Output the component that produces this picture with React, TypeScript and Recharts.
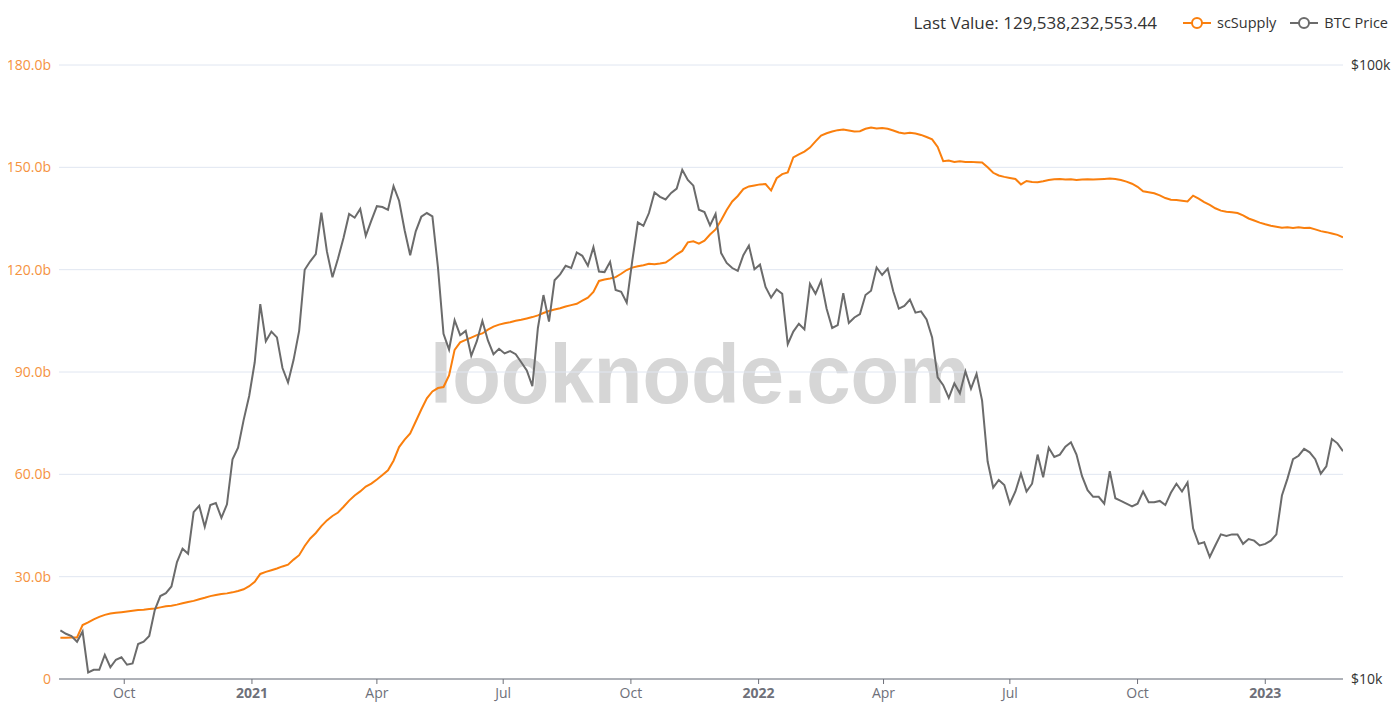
import React from "react"
import { LineChart, Line, XAxis, YAxis, CartesianGrid } from "recharts"

// sample every 4 days starting 2020-08-16 (UTC)
const START = Date.UTC(2020, 7, 16)
const STEP = 4 * 86400000

// stablecoin supply, billions
const scSupply = [
  12.1, 12.1, 12.2, 12.2,
  15.8, 16.6, 17.5, 18.2, 18.8, 19.2, 19.4, 19.6,
  19.8, 20.0, 20.2, 20.3, 20.5, 20.7, 21.0, 21.3,
  21.5, 21.8, 22.2, 22.6, 22.9, 23.4, 23.8,
  24.3, 24.6, 24.9, 25.1, 25.4, 25.8, 26.3, 27.2,
  28.5, 30.8, 31.4, 31.9, 32.4, 33.0, 33.5, 35.0,
  36.3, 39.0, 41.2, 42.8, 44.8, 46.5, 47.8,
  48.8, 50.5, 52.3, 53.8, 55.0, 56.4, 57.3,
  58.5, 59.8, 61.2, 64.0, 68.0, 70.2, 72.0, 75.5,
  79.0, 82.3, 84.3, 85.3, 85.6, 89.0, 96.5, 98.7,
  99.4, 100.1, 100.8, 101.3, 102.4, 103.3, 103.9,
  104.3, 104.6, 105.0, 105.3, 105.7, 106.1, 106.6, 107.3,
  107.9, 108.3, 108.7, 109.2, 109.6, 110.0, 110.9, 111.8,
  113.5, 116.7, 117.1, 117.4, 117.8, 118.8, 119.9,
  120.6, 121.0, 121.3, 121.7, 121.6, 121.8, 122.1, 123.2,
  124.5, 125.5, 128.0, 128.3, 127.6, 128.5, 130.3,
  131.8, 134.5, 137.5, 140.0, 141.6, 143.6, 144.4, 144.7,
  145.0, 145.1, 143.2, 146.8, 148.0, 148.5, 152.9, 153.8,
  154.6, 155.8, 157.6, 159.3, 160.0, 160.5, 160.9,
  161.1, 160.8, 160.5, 160.6, 161.3, 161.7, 161.4, 161.5,
  161.3, 160.8, 160.2, 159.9, 160.1, 159.9, 159.5,
  158.9, 158.2, 156.0, 151.8, 152.0, 151.6, 151.8, 151.6,
  151.6, 151.5, 151.4, 150.0, 148.4, 147.6, 147.2,
  146.9, 146.6, 145.0, 146.0, 145.7, 145.6, 145.9, 146.3,
  146.5, 146.6, 146.4, 146.5, 146.3, 146.4, 146.5, 146.4,
  146.5, 146.6, 146.7, 146.6, 146.3, 145.8, 145.2,
  144.3, 143.0, 142.7, 142.4, 141.8, 141.0, 140.5, 140.4,
  140.2, 140.0, 141.7, 140.8, 139.8, 139.0, 138.0, 137.3,
  137.0, 136.8, 136.6, 135.9, 135.0, 134.4, 133.8,
  133.3, 132.9, 132.6, 132.3, 132.4, 132.2, 132.4, 132.2,
  132.3, 131.8, 131.3, 131.0, 130.6, 130.2, 129.5,
]

// BTC price, thousands of USD
const btcPrice = [
  12.0, 11.85, 11.75, 11.5,
  11.95, 10.25, 10.35, 10.35, 10.95, 10.45, 10.75, 10.85,
  10.55, 10.6, 11.4, 11.5, 11.75, 12.95, 13.65, 13.8,
  14.15, 15.5, 16.3, 16.0, 18.7, 19.15, 17.7,
  19.2, 19.35, 18.3, 19.25, 22.8, 23.8, 26.4, 28.9,
  32.8, 40.8, 35.5, 36.8, 36.0, 32.1, 30.4, 33.1,
  36.9, 46.4, 47.9, 49.2, 57.5, 49.7, 45.1,
  48.4, 52.3, 57.2, 56.4, 58.3, 52.7, 55.8,
  58.9, 58.7, 58.1, 63.5, 60.1, 53.8, 49.0, 53.6,
  56.6, 57.4, 56.7, 46.8, 36.5, 34.4, 38.4, 36.3,
  36.9, 33.6, 35.5, 38.3, 35.6, 33.8, 34.5,
  33.9, 34.2, 33.8, 32.8, 31.8, 30.0, 37.3, 42.2,
  38.2, 44.6, 45.6, 47.1, 46.7, 49.5, 48.9, 47.1,
  50.5, 46.1, 46.0, 47.8, 43.0, 42.7, 41.0,
  48.0, 55.4, 54.7, 57.4, 62.0, 61.0, 60.4, 61.9,
  62.9, 67.5, 65.0, 63.6, 58.1, 57.6, 54.8,
  57.2, 49.4, 47.6, 46.7, 46.2, 49.0, 50.8, 46.5,
  47.3, 43.5, 41.8, 43.1, 42.4, 35.1, 36.8, 37.9,
  37.1, 44.0, 42.4, 44.5, 40.1, 37.3, 37.7,
  42.5, 38.0, 38.8, 39.3, 42.2, 42.9, 46.8, 45.5,
  46.6, 42.8, 40.1, 40.5, 41.5, 39.5, 39.7,
  38.5, 36.0, 31.0, 30.1, 28.7, 30.3, 29.2, 31.7,
  29.7, 31.4, 28.4, 22.6, 20.5, 21.1, 20.7,
  19.3, 20.2, 21.6, 20.2, 20.8, 23.2, 21.3, 23.8,
  23.0, 23.2, 23.9, 24.3, 23.2, 21.4, 20.3, 19.8,
  19.8, 19.3, 21.8, 19.7, 19.5, 19.3, 19.1,
  19.3, 20.2, 19.4, 19.4, 19.5, 19.2, 20.1, 20.8,
  20.2, 20.9, 17.6, 16.6, 16.7, 15.8, 16.5, 17.2,
  17.1, 17.2, 17.2, 16.6, 16.9, 16.8, 16.5,
  16.6, 16.8, 17.2, 19.9, 21.2, 22.8, 23.1, 23.7,
  23.4, 22.8, 21.6, 22.2, 24.6, 24.2, 23.5,
]

const supplyTicks = [0, 30, 60, 90, 120, 150, 180]
const priceTicks = [10, 100]
const dateTicks = [
  Date.UTC(2020, 9, 1), Date.UTC(2021, 0, 1), Date.UTC(2021, 3, 1), Date.UTC(2021, 6, 1),
  Date.UTC(2021, 9, 1), Date.UTC(2022, 0, 1), Date.UTC(2022, 3, 1), Date.UTC(2022, 6, 1),
  Date.UTC(2022, 9, 1), Date.UTC(2023, 0, 1),
]
const MONTHS = ["Jan", "Feb", "Mar", "Apr", "May", "Jun", "Jul", "Aug", "Sep", "Oct", "Nov", "Dec"]

const ORANGE = "#fa7f0d"
const GREY = "#6b6b6b"
const FONT = "'Open Sans', 'Noto Sans', sans-serif"

const chartData = scSupply.map((v, i) => ({
  t: START + i * STEP,
  scSupply: v,
  btc: btcPrice[i],
}))

const DateTick = (props: any) => {
  const { x, y, payload } = props
  const d = new Date(payload.value)
  const m = d.getUTCMonth()
  const isYear = m === 0
  return (
    <text x={x} y={y} dy={12} textAnchor="middle" fill="#6e7079" fontSize={14} fontFamily={FONT} fontWeight={isYear ? 700 : 400}>
      {isYear ? String(d.getUTCFullYear()) : MONTHS[m]}
    </text>
  )
}

const LegendIcon = ({ color }: { color: string }) => (
  <svg width={28} height={14} style={{ display: "block" }}>
    <line x1={0} y1={7} x2={28} y2={7} stroke={color} strokeWidth={2} />
    <circle cx={14} cy={7} r={5} fill="#fff" stroke={color} strokeWidth={2} />
  </svg>
)

export default function App() {
  return (
    <div style={{ position: "relative", width: 1384, height: 696, fontFamily: FONT }}>
      <svg width={1384} height={696} style={{ position: "absolute", left: 0, top: 0 }}>
        <text x={422} y={395} fontSize={84} fontWeight={700} fill="#d6d6d6" fontFamily="'Liberation Sans', Arial, sans-serif" textLength={540} lengthAdjust="spacingAndGlyphs">
          looknode.com
        </text>
      </svg>
      <div style={{ position: "absolute", right: 4, top: 3, display: "flex", alignItems: "center", color: "#333", zIndex: 2 }}>
        <span style={{ fontSize: 17, marginRight: 26 }}>Last Value: 129,538,232,553.44</span>
        <LegendIcon color={ORANGE} />
        <span style={{ fontSize: 14.5, marginLeft: 6, marginRight: 14 }}>scSupply</span>
        <LegendIcon color={GREY} />
        <span style={{ fontSize: 14.5, marginLeft: 6 }}>BTC Price</span>
      </div>
      <div style={{ position: "absolute", left: 0, top: 0 }}>
        <LineChart width={1384} height={696} data={chartData} margin={{ top: 57, right: 0, left: 0, bottom: 0 }}>
          <CartesianGrid horizontal vertical={false} stroke="#e0e6f1" yAxisId="supply" />
          <XAxis
            dataKey="t"
            type="number"
            scale="time"
            domain={[Date.UTC(2020, 7, 15), Date.UTC(2023, 1, 26)]}
            ticks={dateTicks}
            tick={<DateTick />}
            tickSize={5}
            stroke="#6e7079"
            height={25}
            allowDataOverflow
          />
          <YAxis
            yAxisId="supply"
            orientation="left"
            width={51}
            domain={[0, 180]}
            ticks={supplyTicks}
            axisLine={false}
            tickLine={false}
            tick={{ fill: "#f5923e", fontSize: 14, fontFamily: FONT }}
            tickFormatter={(v: number) => (v === 0 ? "0" : `${v.toFixed(1)}b`)}
          />
          <YAxis
            yAxisId="price"
            orientation="right"
            width={49}
            scale="log"
            domain={[10, 100]}
            ticks={priceTicks}
            axisLine={false}
            tickLine={false}
            tick={{ fill: "#333", fontSize: 14, fontFamily: FONT }}
            tickFormatter={(v: number) => `$${v}k`}
            allowDataOverflow
          />
          <Line yAxisId="supply" type="linear" dataKey="scSupply" stroke={ORANGE} strokeWidth={2} dot={false} isAnimationActive={false} />
          <Line yAxisId="price" type="linear" dataKey="btc" stroke={GREY} strokeWidth={2} dot={false} isAnimationActive={false} />
        </LineChart>
      </div>
    </div>
  )
}
